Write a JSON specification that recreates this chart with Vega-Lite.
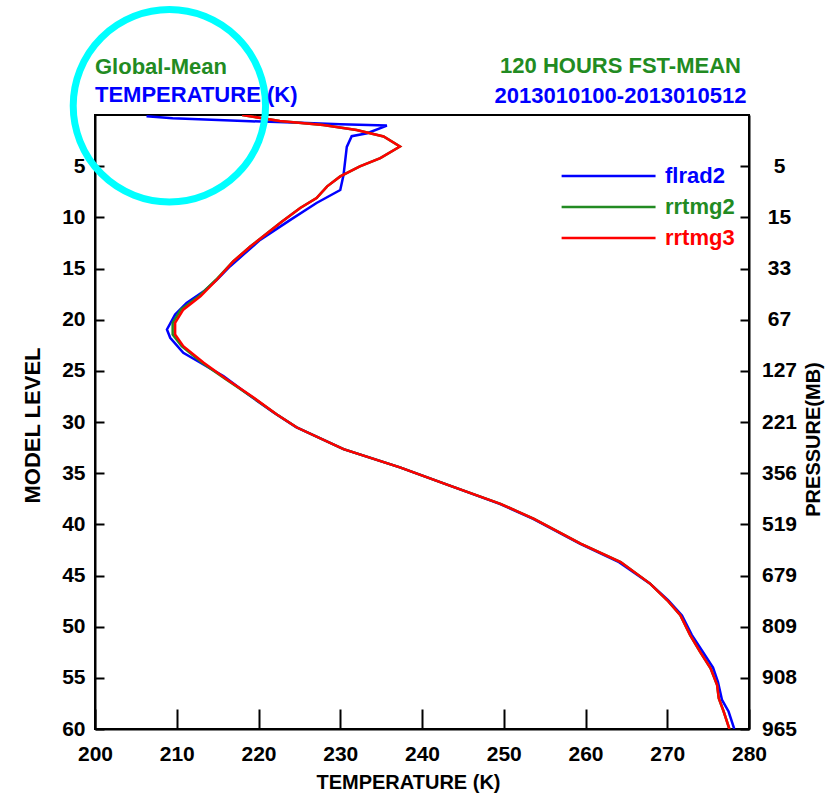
{
  "$schema": "https://vega.github.io/schema/vega-lite/v6.json",
  "width": 654,
  "height": 614,
  "autosize": {"type": "none"},
  "padding": {"left": 95, "top": 115, "right": 90, "bottom": 68},
  "background": "white",
  "title": {
    "text": "Global-Mean",
    "subtitle": "TEMPERATURE (K)",
    "anchor": "start",
    "frame": "group",
    "font": "Liberation Sans",
    "fontSize": 22,
    "fontWeight": "bold",
    "color": "#228b22",
    "subtitleFont": "Liberation Sans",
    "subtitleFontSize": 22,
    "subtitleFontWeight": "bold",
    "subtitleColor": "#0000ff",
    "subtitlePadding": 6,
    "offset": -111
  },
  "config": {
    "view": {"stroke": "black", "strokeWidth": 2},
    "font": "Liberation Sans",
    "axis": {
      "labelFont": "Liberation Sans",
      "labelFontWeight": "bold",
      "labelFontSize": 21,
      "labelColor": "black",
      "titleFont": "Liberation Sans",
      "titleFontWeight": "bold",
      "titleFontSize": 21,
      "titleColor": "black",
      "domainColor": "black",
      "domainWidth": 2,
      "tickColor": "black",
      "tickWidth": 2,
      "grid": false,
      "labelOverlap": false,
      "labelBound": false,
      "labelFlush": false
    }
  },
  "datasets": {
    "prof": [
      {"m": "flrad2", "lev": 0.13, "t": 206.3},
      {"m": "flrad2", "lev": 0.32, "t": 209.5},
      {"m": "flrad2", "lev": 0.61, "t": 219.0},
      {"m": "flrad2", "lev": 0.76, "t": 225.1},
      {"m": "flrad2", "lev": 0.91, "t": 230.0},
      {"m": "flrad2", "lev": 1.03, "t": 235.7},
      {"m": "flrad2", "lev": 1.78, "t": 233.3},
      {"m": "flrad2", "lev": 2.07, "t": 231.4},
      {"m": "flrad2", "lev": 3.12, "t": 230.8},
      {"m": "flrad2", "lev": 5.87, "t": 230.4},
      {"m": "flrad2", "lev": 7.33, "t": 230.0},
      {"m": "flrad2", "lev": 8.6, "t": 227.1},
      {"m": "flrad2", "lev": 10.25, "t": 223.9},
      {"m": "flrad2", "lev": 12.2, "t": 220.2},
      {"m": "flrad2", "lev": 14.8, "t": 216.5},
      {"m": "flrad2", "lev": 16.1, "t": 214.9},
      {"m": "flrad2", "lev": 17.23, "t": 213.3},
      {"m": "flrad2", "lev": 18.36, "t": 211.2},
      {"m": "flrad2", "lev": 19.5, "t": 209.8},
      {"m": "flrad2", "lev": 20.96, "t": 208.8},
      {"m": "flrad2", "lev": 21.77, "t": 209.2},
      {"m": "flrad2", "lev": 23.23, "t": 210.8},
      {"m": "flrad2", "lev": 24.21, "t": 212.9},
      {"m": "flrad2", "lev": 25.51, "t": 215.7},
      {"m": "flrad2", "lev": 27.46, "t": 219.0},
      {"m": "flrad2", "lev": 29.05, "t": 221.8},
      {"m": "flrad2", "lev": 30.5, "t": 224.6},
      {"m": "flrad2", "lev": 32.65, "t": 230.4},
      {"m": "flrad2", "lev": 34.43, "t": 237.3},
      {"m": "flrad2", "lev": 36.22, "t": 243.4},
      {"m": "flrad2", "lev": 38.0, "t": 249.5},
      {"m": "flrad2", "lev": 39.46, "t": 253.6},
      {"m": "flrad2", "lev": 41.89, "t": 259.3},
      {"m": "flrad2", "lev": 43.7, "t": 264.1},
      {"m": "flrad2", "lev": 45.8, "t": 267.9},
      {"m": "flrad2", "lev": 47.4, "t": 270.1},
      {"m": "flrad2", "lev": 48.9, "t": 271.8},
      {"m": "flrad2", "lev": 50.8, "t": 273.0},
      {"m": "flrad2", "lev": 52.4, "t": 274.3},
      {"m": "flrad2", "lev": 54.0, "t": 275.6},
      {"m": "flrad2", "lev": 55.4, "t": 276.2},
      {"m": "flrad2", "lev": 57.16, "t": 276.7},
      {"m": "flrad2", "lev": 58.29, "t": 277.5},
      {"m": "flrad2", "lev": 60.0, "t": 278.2},
      {"m": "rrtmg2", "lev": 0.0, "t": 218.0},
      {"m": "rrtmg2", "lev": 0.58, "t": 222.6},
      {"m": "rrtmg2", "lev": 0.97, "t": 227.9},
      {"m": "rrtmg2", "lev": 1.46, "t": 232.0},
      {"m": "rrtmg2", "lev": 2.1, "t": 235.3},
      {"m": "rrtmg2", "lev": 3.08, "t": 237.3},
      {"m": "rrtmg2", "lev": 4.22, "t": 234.9},
      {"m": "rrtmg2", "lev": 5.02, "t": 232.4},
      {"m": "rrtmg2", "lev": 6.0, "t": 230.0},
      {"m": "rrtmg2", "lev": 6.97, "t": 228.4},
      {"m": "rrtmg2", "lev": 8.11, "t": 227.1},
      {"m": "rrtmg2", "lev": 9.08, "t": 225.1},
      {"m": "rrtmg2", "lev": 10.45, "t": 222.8},
      {"m": "rrtmg2", "lev": 12.85, "t": 219.0},
      {"m": "rrtmg2", "lev": 14.31, "t": 216.9},
      {"m": "rrtmg2", "lev": 16.1, "t": 214.8},
      {"m": "rrtmg2", "lev": 17.72, "t": 212.7},
      {"m": "rrtmg2", "lev": 19.02, "t": 210.5},
      {"m": "rrtmg2", "lev": 20.31, "t": 209.5},
      {"m": "rrtmg2", "lev": 21.45, "t": 209.5},
      {"m": "rrtmg2", "lev": 22.59, "t": 210.6},
      {"m": "rrtmg2", "lev": 24.21, "t": 213.1},
      {"m": "rrtmg2", "lev": 25.83, "t": 216.0},
      {"m": "rrtmg2", "lev": 27.61, "t": 219.3},
      {"m": "rrtmg2", "lev": 29.24, "t": 222.2},
      {"m": "rrtmg2", "lev": 30.54, "t": 224.7},
      {"m": "rrtmg2", "lev": 32.65, "t": 230.4},
      {"m": "rrtmg2", "lev": 34.43, "t": 237.3},
      {"m": "rrtmg2", "lev": 36.22, "t": 243.4},
      {"m": "rrtmg2", "lev": 38.0, "t": 249.6},
      {"m": "rrtmg2", "lev": 39.46, "t": 253.7},
      {"m": "rrtmg2", "lev": 41.89, "t": 259.4},
      {"m": "rrtmg2", "lev": 43.68, "t": 264.3},
      {"m": "rrtmg2", "lev": 45.79, "t": 267.9},
      {"m": "rrtmg2", "lev": 47.42, "t": 270.0},
      {"m": "rrtmg2", "lev": 48.88, "t": 271.6},
      {"m": "rrtmg2", "lev": 50.83, "t": 272.8},
      {"m": "rrtmg2", "lev": 52.44, "t": 274.0},
      {"m": "rrtmg2", "lev": 54.07, "t": 275.3},
      {"m": "rrtmg2", "lev": 55.7, "t": 276.1},
      {"m": "rrtmg2", "lev": 57.0, "t": 276.3},
      {"m": "rrtmg2", "lev": 58.29, "t": 276.9},
      {"m": "rrtmg2", "lev": 60.0, "t": 277.6},
      {"m": "rrtmg3", "lev": 0.0, "t": 218.0},
      {"m": "rrtmg3", "lev": 0.58, "t": 222.6},
      {"m": "rrtmg3", "lev": 0.97, "t": 227.9},
      {"m": "rrtmg3", "lev": 1.46, "t": 232.0},
      {"m": "rrtmg3", "lev": 2.1, "t": 235.3},
      {"m": "rrtmg3", "lev": 3.08, "t": 237.3},
      {"m": "rrtmg3", "lev": 4.22, "t": 234.9},
      {"m": "rrtmg3", "lev": 5.02, "t": 232.4},
      {"m": "rrtmg3", "lev": 6.0, "t": 230.0},
      {"m": "rrtmg3", "lev": 6.97, "t": 228.4},
      {"m": "rrtmg3", "lev": 8.11, "t": 227.1},
      {"m": "rrtmg3", "lev": 9.08, "t": 225.1},
      {"m": "rrtmg3", "lev": 10.45, "t": 222.8},
      {"m": "rrtmg3", "lev": 12.85, "t": 219.0},
      {"m": "rrtmg3", "lev": 14.31, "t": 216.9},
      {"m": "rrtmg3", "lev": 16.1, "t": 214.9},
      {"m": "rrtmg3", "lev": 17.72, "t": 212.9},
      {"m": "rrtmg3", "lev": 19.02, "t": 210.8},
      {"m": "rrtmg3", "lev": 20.31, "t": 209.8},
      {"m": "rrtmg3", "lev": 21.45, "t": 209.8},
      {"m": "rrtmg3", "lev": 22.59, "t": 210.8},
      {"m": "rrtmg3", "lev": 24.21, "t": 213.3},
      {"m": "rrtmg3", "lev": 25.83, "t": 216.1},
      {"m": "rrtmg3", "lev": 27.61, "t": 219.4},
      {"m": "rrtmg3", "lev": 29.24, "t": 222.2},
      {"m": "rrtmg3", "lev": 30.54, "t": 224.7},
      {"m": "rrtmg3", "lev": 32.65, "t": 230.4},
      {"m": "rrtmg3", "lev": 34.43, "t": 237.3},
      {"m": "rrtmg3", "lev": 36.22, "t": 243.4},
      {"m": "rrtmg3", "lev": 38.0, "t": 249.6},
      {"m": "rrtmg3", "lev": 39.46, "t": 253.7},
      {"m": "rrtmg3", "lev": 41.89, "t": 259.4},
      {"m": "rrtmg3", "lev": 43.68, "t": 264.3},
      {"m": "rrtmg3", "lev": 45.79, "t": 267.9},
      {"m": "rrtmg3", "lev": 47.42, "t": 270.0},
      {"m": "rrtmg3", "lev": 48.88, "t": 271.6},
      {"m": "rrtmg3", "lev": 50.83, "t": 272.8},
      {"m": "rrtmg3", "lev": 52.44, "t": 274.0},
      {"m": "rrtmg3", "lev": 54.07, "t": 275.3},
      {"m": "rrtmg3", "lev": 55.7, "t": 276.1},
      {"m": "rrtmg3", "lev": 57.0, "t": 276.3},
      {"m": "rrtmg3", "lev": 58.29, "t": 276.9},
      {"m": "rrtmg3", "lev": 60.0, "t": 277.6}
    ],
    "highlight": [
      {"t": 209.1, "lev": -0.9}
    ]
  },
  "layer": [
    {
      "data": {"name": "prof"},
      "mark": {"type": "line", "strokeWidth": 2.5, "clip": true},
      "encoding": {
        "x": {
          "field": "t", "type": "quantitative",
          "scale": {"domain": [200, 280], "nice": false, "zero": false},
          "axis": {
            "orient": "bottom",
            "values": [200, 210, 220, 230, 240, 250, 260, 270, 280],
            "tickSize": -20,
            "labelPadding": 34,
            "title": "TEMPERATURE (K)",
            "titleFontSize": 20,
            "titleX": 313,
            "titlePadding": 8
          }
        },
        "y": {
          "field": "lev", "type": "quantitative",
          "scale": {"domain": [0, 60], "reverse": true, "nice": false, "zero": false},
          "axis": {
            "orient": "left",
            "values": [5, 10, 15, 20, 25, 30, 35, 40, 45, 50, 55, 60],
            "tickSize": -9,
            "labelPadding": 19,
            "title": "MODEL LEVEL",
            "titleFontSize": 22,
            "titleY": 310,
            "titlePadding": 17
          }
        },
        "color": {
          "field": "m", "type": "nominal",
          "scale": {"domain": ["flrad2", "rrtmg2", "rrtmg3"], "range": ["#0000ff", "#228b22", "#ff0000"]},
          "legend": {
            "orient": "none",
            "legendX": 465,
            "legendY": 50,
            "title": null,
            "padding": 0,
            "symbolType": "M-1,0H9",
            "symbolSize": 353,
            "symbolStrokeWidth": 2.5,
            "labelFont": "Liberation Sans",
            "labelFontSize": 22,
            "labelFontWeight": "bold",
            "labelOffset": 83,
            "rowPadding": 9,
            "encode": {"labels": {"update": {"fill": {"scale": "color", "field": "value"}}}}
          }
        },
        "order": {"field": "lev", "type": "quantitative"}
      }
    },
    {
      "data": {"name": "prof"},
      "mark": {"type": "point", "opacity": 0},
      "encoding": {
        "x": {
          "field": "t", "type": "quantitative",
          "axis": {
            "orient": "top", "domain": false, "ticks": false, "labels": false,
            "title": "2013010100-2013010512",
            "titleColor": "#0000ff",
            "titleFontSize": 22,
            "titleX": 525, "titleAlign": "center",
            "titlePadding": 8
          }
        },
        "y": {
          "field": "lev", "type": "quantitative",
          "axis": {
            "orient": "right",
            "values": [5, 10, 15, 20, 25, 30, 35, 40, 45, 50, 55, 60],
            "labelExpr": "['', '5', '15', '33', '67', '127', '221', '356', '519', '679', '809', '908', '965'][round(datum.value / 5)]",
            "tickSize": -9,
            "labelPadding": 39,
            "labelAlign": "center",
            "title": "PRESSURE(MB)",
            "titleFontSize": 20,
            "titleAngle": 270,
            "titleY": 324,
            "titlePadding": 27
          }
        }
      }
    },
    {
      "data": {"name": "prof"},
      "mark": {"type": "point", "opacity": 0},
      "encoding": {
        "x": {
          "field": "t", "type": "quantitative",
          "axis": {
            "orient": "top", "domain": false, "ticks": false, "labels": false,
            "offset": 30,
            "title": "120 HOURS FST-MEAN",
            "titleColor": "#228b22",
            "titleFontSize": 22,
            "titleX": 525, "titleAlign": "center",
            "titlePadding": 8
          }
        },
        "y": {"field": "lev", "type": "quantitative", "axis": null}
      }
    },
    {
      "data": {"name": "highlight"},
      "mark": {"type": "point", "shape": "circle", "filled": false, "size": 37000, "stroke": "#00ffff", "strokeWidth": 7, "opacity": 1, "clip": false},
      "encoding": {
        "x": {"field": "t", "type": "quantitative", "axis": null},
        "y": {"field": "lev", "type": "quantitative", "axis": null}
      }
    }
  ],
  "resolve": {"axis": {"x": "independent", "y": "independent"}}
}
